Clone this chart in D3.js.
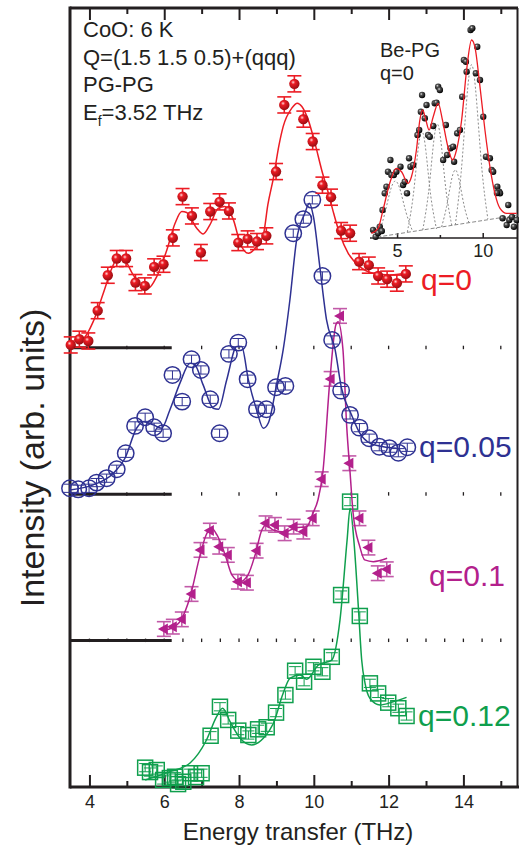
<!DOCTYPE html>
<html>
<head>
<meta charset="utf-8">
<script src="https://cdn.jsdelivr.net/npm/d3@7"></script>
<style>
  body { margin: 0; background: #fff; }
  svg { display: block; }
  text { font-family: "Liberation Sans", Arial, sans-serif; fill: #231f20; }
</style>
</head>
<body>
<div id="chart"></div>
<script>
// ---- data (energy in THz, intensity in arb. units above each curve's baseline) ----
const xMajorTicks = [4, 6, 8, 10, 12, 14]
const xMinorTicks = [5, 7, 9, 11, 13, 15]
const insetTicks = [5, 10]

const seriesLabels = ['q=0', 'q=0.05', 'q=0.1', 'q=0.12']
const seriesOffsets = [30, 20, 10, 0]
const seriesErrors = [0.55, 0.28, 0.5, 0.28]

const pointsQ0 = [
  [3.50, 0.19], [3.73, 0.58], [3.97, 0.46], [4.22, 2.53], [4.49, 4.95], [4.73, 6.09],
  [4.98, 6.09], [5.23, 4.45], [5.48, 4.22], [5.73, 5.52], [5.98, 5.70], [6.23, 7.50],
  [6.49, 10.32], [6.74, 9.00], [6.98, 6.50], [7.23, 9.30], [7.48, 9.96], [7.73, 9.34],
  [7.98, 7.18], [8.23, 7.43], [8.48, 7.25], [8.73, 7.64], [8.99, 12.03], [9.21, 16.58],
  [9.48, 18.02], [9.72, 15.61], [9.97, 14.08], [10.23, 11.10], [10.46, 10.28], [10.73, 8.00],
  [10.97, 7.82], [11.21, 5.88], [11.47, 5.64], [11.72, 4.90], [11.96, 4.68], [12.22, 4.41],
  [12.46, 5.04]
]
const fitQ0 = [
  [3.48, 0.42], [3.84, 0.65], [4.10, 1.78], [4.37, 3.72], [4.60, 5.43], [4.77, 6.18],
  [4.95, 5.95], [5.17, 4.97], [5.40, 4.17], [5.57, 4.06], [5.80, 4.86], [6.07, 6.68],
  [6.29, 8.50], [6.47, 9.30], [6.60, 9.23], [6.87, 8.16], [7.04, 7.77], [7.22, 8.39],
  [7.45, 9.53], [7.62, 9.64], [7.85, 8.73], [8.03, 7.14], [8.25, 6.45], [8.47, 6.91],
  [8.65, 7.70], [8.77, 9.75], [8.92, 11.60], [9.07, 13.85], [9.18, 15.10], [9.41, 16.36],
  [9.56, 16.70], [9.68, 16.47], [9.85, 15.56], [10.03, 13.97], [10.21, 12.14], [10.39, 10.55],
  [10.52, 9.28], [10.70, 7.71], [10.92, 6.45], [11.23, 5.54], [11.59, 5.09], [12.04, 4.97],
  [12.57, 5.13]
]

const pointsQ005 = [
  [3.48, 0.40], [3.70, 0.33], [3.99, 0.40], [4.19, 0.79], [4.46, 1.09], [4.73, 1.70],
  [4.97, 2.79], [5.22, 4.66], [5.49, 5.25], [5.73, 4.57], [5.97, 4.16], [6.22, 8.14],
  [6.48, 6.32], [6.73, 9.21], [6.98, 8.48], [7.23, 6.48], [7.48, 4.16], [7.73, 9.58],
  [7.98, 10.35], [8.23, 7.85], [8.48, 5.80], [8.73, 5.80], [8.99, 7.30], [9.24, 7.39],
  [9.45, 17.82], [9.72, 18.78], [9.96, 20.10], [10.23, 14.90], [10.49, 10.53], [10.73, 7.07],
  [10.97, 5.41], [11.22, 4.54], [11.48, 3.82], [11.75, 3.24], [12.02, 3.14], [12.26, 2.83],
  [12.50, 3.20]
]
const fitQ005 = [
  [3.48, 0.29], [4.10, 0.63], [4.64, 1.43], [4.95, 2.45], [5.26, 4.50], [5.44, 4.95],
  [5.71, 4.73], [5.93, 4.50], [6.15, 5.75], [6.42, 7.58], [6.69, 8.94], [6.82, 8.83],
  [7.04, 7.46], [7.31, 5.87], [7.45, 5.80], [7.67, 7.80], [7.94, 10.08], [8.07, 10.08],
  [8.25, 7.80], [8.47, 5.75], [8.65, 4.50], [8.78, 4.84], [9.01, 7.57], [9.18, 9.85],
  [9.36, 13.26], [9.54, 17.36], [9.76, 19.19], [9.88, 19.87], [9.99, 18.95], [10.16, 15.54],
  [10.34, 11.90], [10.57, 9.85], [10.74, 7.23], [11.01, 5.41], [11.23, 4.16], [11.50, 3.48],
  [11.86, 3.24], [12.22, 3.13]
]

const pointsQ01 = [
  [5.99, 0.79], [6.23, 0.95], [6.47, 1.45], [6.73, 3.18], [6.97, 6.19], [7.22, 7.51],
  [7.47, 6.41], [7.70, 5.85], [7.97, 4.02], [8.21, 3.95], [8.47, 6.14], [8.71, 8.01],
  [8.96, 7.90], [9.22, 7.33], [9.46, 7.78], [9.72, 7.44], [9.97, 8.35], [10.21, 11.02],
  [10.45, 17.87], [10.70, 22.17], [10.95, 12.11], [11.22, 8.35], [11.46, 6.35], [11.71, 4.60],
  [11.95, 4.87]
]
const fitQ01 = [
  [5.99, 0.72], [6.21, 0.86], [6.45, 1.41], [6.69, 2.98], [6.96, 5.85], [7.12, 7.21],
  [7.27, 7.67], [7.41, 7.21], [7.63, 5.85], [7.81, 4.48], [8.03, 4.02], [8.24, 4.48],
  [8.43, 5.85], [8.61, 7.55], [8.72, 7.90], [8.91, 7.55], [9.23, 7.41], [9.50, 7.69],
  [9.81, 7.78], [9.98, 8.72], [10.11, 9.60], [10.24, 11.45], [10.43, 17.80], [10.59, 21.56],
  [10.65, 21.78], [10.78, 19.84], [10.88, 14.61], [10.97, 11.45], [11.05, 8.72], [11.23, 6.41],
  [11.36, 5.51], [11.59, 5.39], [11.96, 5.62]
]

const pointsQ012 = [
  [5.49, 1.32], [5.62, 1.02], [5.80, 1.16], [5.97, 0.48], [6.15, 0.61], [6.29, 0.70],
  [6.37, 0.20], [6.51, 0.36], [6.69, 0.94], [6.85, 0.68], [7.00, 0.94], [7.24, 3.50],
  [7.49, 5.48], [7.71, 4.58], [7.98, 3.85], [8.25, 3.55], [8.51, 3.94], [8.74, 4.08],
  [8.99, 5.08], [9.24, 6.28], [9.50, 7.94], [9.74, 7.19], [9.99, 8.21], [10.23, 7.87],
  [10.48, 8.89], [10.73, 13.11], [10.97, 19.49], [11.23, 11.68], [11.50, 7.08], [11.72, 6.39],
  [11.99, 5.76], [12.26, 5.38], [12.48, 4.85]
]
const fitQ012 = [
  [5.49, 0.48], [6.15, 1.05], [6.69, 1.64], [7.13, 3.21], [7.40, 4.80], [7.56, 5.38],
  [7.76, 4.46], [8.03, 3.33], [8.34, 2.87], [8.65, 3.33], [8.92, 4.35], [9.18, 6.40],
  [9.36, 7.42], [9.63, 7.65], [9.81, 7.36], [10.12, 8.33], [10.48, 8.67], [10.70, 11.41],
  [10.89, 16.87], [10.97, 19.04], [11.07, 16.87], [11.19, 12.32], [11.28, 8.67], [11.37, 7.08],
  [11.50, 6.06], [11.77, 5.60], [12.12, 5.82], [12.48, 6.12]
]

// inset: Be-PG, q=0
const insetPoints = [
  [3.60, 0.80], [3.75, 0.13], [3.89, 0.50], [3.99, 1.13], [4.11, 0.70], [4.15, 2.80],
  [4.28, 4.47], [4.38, 5.13], [4.47, 6.63], [4.61, 7.80], [4.67, 6.30], [4.81, 6.30],
  [4.96, 6.63], [5.20, 7.13], [5.35, 5.30], [5.45, 5.63], [5.58, 4.47], [5.70, 7.97],
  [5.78, 7.13], [5.94, 7.30], [6.19, 10.30], [6.29, 10.80], [6.39, 12.63], [6.46, 14.30],
  [6.62, 11.97], [6.72, 13.30], [6.81, 10.30], [6.91, 10.13], [7.11, 11.20], [7.20, 13.47],
  [7.30, 13.53], [7.40, 15.13], [7.50, 14.80], [7.69, 7.80], [7.85, 11.30], [7.92, 8.30],
  [8.12, 8.97], [8.27, 9.13], [8.33, 7.63], [8.51, 10.47], [8.67, 10.80], [8.80, 14.13],
  [8.90, 17.80], [9.02, 17.63], [9.06, 16.63], [9.29, 20.80], [9.39, 20.97], [9.68, 19.13],
  [9.60, 16.47], [9.84, 15.80], [10.03, 12.13], [10.19, 8.13], [10.42, 7.97], [10.52, 6.80],
  [10.61, 6.63], [10.85, 5.13], [10.96, 4.63], [11.01, 4.47], [10.83, 4.50], [11.49, 3.30],
  [11.16, 1.97], [11.40, 1.30], [11.55, 1.80], [11.71, 2.10], [11.82, 1.13], [11.98, 1.80]
]
const insetFit = [
  [3.50, 0.47], [3.89, 0.97], [4.18, 2.80], [4.57, 5.47], [4.96, 6.97], [5.26, 6.63],
  [5.64, 5.47], [5.84, 6.13], [6.13, 8.80], [6.33, 11.80], [6.49, 12.80], [6.68, 11.80],
  [6.87, 10.80], [7.11, 12.13], [7.40, 13.47], [7.65, 11.80], [7.92, 9.47], [8.24, 7.80],
  [8.47, 8.80], [8.77, 11.80], [9.06, 16.80], [9.35, 19.80], [9.54, 19.13], [9.84, 15.13],
  [10.13, 10.80], [10.42, 7.13], [10.71, 4.47], [11.01, 2.97], [11.40, 2.47], [11.98, 2.47]
]
const insetBackground = [[3.50, 0.0], [12.06, 2.3]]
const insetComponents = [
  [[3.9, 0.2], [4.3, 2.4], [4.6, 4.9], [4.9, 6.1], [5.2, 4.9], [5.5, 2.5], [5.9, 0.7]],
  [[5.6, 0.6], [5.95, 3.8], [6.2, 8.8], [6.45, 11.6], [6.7, 8.8], [6.95, 3.9], [7.3, 0.9]],
  [[6.5, 0.8], [6.85, 4.2], [7.1, 9.4], [7.35, 12.4], [7.6, 9.4], [7.85, 4.3], [8.2, 1.2]],
  [[7.6, 1.1], [7.9, 3.0], [8.15, 5.8], [8.4, 7.3], [8.65, 5.8], [8.9, 3.1], [9.2, 1.5]],
  [[8.4, 1.3], [8.75, 6.0], [9.05, 14.0], [9.35, 19.0], [9.65, 14.0], [9.95, 6.2], [10.3, 1.9]]
]

// ---- layout ----
const W = 519, H = 850
const INK = '#231f20'
const colors = ['#ec1c24', '#2e3192', '#b3208c', '#0f9f4d']

const svg = d3.select('#chart').append('svg')
                               .attr('width', W)
                               .attr('height', H)

const x = d3.scaleLinear().domain([3.48, 15.46]).range([70, 518])
const y = d3.scaleLinear().domain([0, 53.2]).range([787, 8])

const defs = svg.append('defs')
const addBall = (id, hi, mid, dark) => {
  const g = defs.append('radialGradient')
                .attr('id', id)
                .attr('cx', '38%').attr('cy', '35%').attr('r', '65%')
  g.append('stop').attr('offset', '0%').attr('stop-color', hi)
  g.append('stop').attr('offset', '30%').attr('stop-color', mid)
  g.append('stop').attr('offset', '100%').attr('stop-color', dark)
}
addBall('ballRed', '#ffd6d6', '#ec1c24', '#9c0d12')
addBall('ballBlack', '#e8e8e8', '#555', '#000')

// ---- frame and axes ----
const axisBottom = svg.append('g').attr('transform', 'translate(0,787)')
axisBottom.call(d3.axisBottom(x).tickValues(xMajorTicks).tickSizeInner(-12).tickSizeOuter(0).tickPadding(8))
axisBottom.append('g').call(d3.axisBottom(x).tickValues(xMinorTicks).tickSizeInner(-6).tickSizeOuter(0).tickFormat(''))
const axisTop = svg.append('g').attr('transform', 'translate(0,8)')
axisTop.call(d3.axisTop(x).tickValues(xMajorTicks).tickSizeInner(-12).tickSizeOuter(0).tickFormat(''))
axisTop.append('g').call(d3.axisTop(x).tickValues(xMinorTicks).tickSizeInner(-6).tickSizeOuter(0).tickFormat(''))
svg.selectAll('.domain').remove()
svg.selectAll('.tick line').attr('stroke', INK).attr('stroke-width', 2)
axisBottom.selectAll('.tick text')
          .attr('font-size', 18)
          .attr('font-family', '"Liberation Sans", Arial, sans-serif')
          .attr('fill', INK)

svg.append('line').attr('x1', 70).attr('x2', 518).attr('y1', 8).attr('y2', 8)
   .attr('stroke', INK).attr('stroke-width', 3)
svg.append('line').attr('x1', 70).attr('x2', 519).attr('y1', 787).attr('y2', 787)
   .attr('stroke', INK).attr('stroke-width', 3)
svg.append('line').attr('x1', 70).attr('x2', 70).attr('y1', 6.5).attr('y2', 788.5)
   .attr('stroke', INK).attr('stroke-width', 3)
svg.append('line').attr('x1', 517.5).attr('x2', 517.5).attr('y1', 8).attr('y2', 787)
   .attr('stroke', INK).attr('stroke-width', 2)

// baselines of the shifted curves: short solid piece then dotted ticks
seriesOffsets.slice(0, 3).forEach((off, i) => {
  const yb = y(off)
  svg.append('line').attr('x1', 70).attr('x2', x(6.2)).attr('y1', yb).attr('y2', yb)
     .attr('stroke', INK).attr('stroke-width', 3)
  const step = off === 10 ? 0.5 : 1
  const ticks = d3.range(4, 15.01, step)
  svg.append('g').selectAll('line').data(ticks).enter().append('line')
     .attr('x1', d => x(d)).attr('x2', d => x(d))
     .attr('y1', yb - 2).attr('y2', yb + 1.5)
     .attr('stroke', INK).attr('stroke-width', 1.3)
})

svg.append('text').attr('x', 298).attr('y', 840).attr('text-anchor', 'middle')
   .attr('font-size', 24).text('Energy transfer (THz)')
svg.append('text').attr('transform', 'translate(44,458) rotate(-90)')
   .attr('text-anchor', 'middle').attr('font-size', 34).text('Intensity (arb. units)')

// top-left annotation
const note = svg.append('g').attr('font-size', 22)
note.append('text').attr('x', 83).attr('y', 37).attr('font-size', 22).text('CoO: 6 K')
note.append('text').attr('x', 83).attr('y', 65).attr('font-size', 22).text('Q=(1.5 1.5 0.5)+(qqq)')
note.append('text').attr('x', 83).attr('y', 92).attr('font-size', 22).text('PG-PG')
const ef = note.append('text').attr('x', 83).attr('y', 120).attr('font-size', 22)
ef.append('tspan').text('E')
ef.append('tspan').attr('font-size', 14).attr('dy', 6).text('f')
ef.append('tspan').attr('dy', -6).text('=3.52 THz')

// ---- series ----
const line = off => d3.line()
                      .x(d => x(d[0]))
                      .y(d => y(d[1] + off))
                      .curve(d3.curveMonotoneX)

const drawErrors = (g, pts, off, err, color, capHalf, width) => {
  const eb = g.append('g').attr('stroke', color).attr('stroke-width', width)
  const each = eb.selectAll('g').data(pts).enter().append('g')
  each.append('line')
      .attr('x1', d => x(d[0])).attr('x2', d => x(d[0]))
      .attr('y1', d => y(d[1] + off - err)).attr('y2', d => y(d[1] + off + err))
  each.append('line')
      .attr('x1', d => x(d[0]) - capHalf).attr('x2', d => x(d[0]) + capHalf)
      .attr('y1', d => y(d[1] + off - err)).attr('y2', d => y(d[1] + off - err))
  each.append('line')
      .attr('x1', d => x(d[0]) - capHalf).attr('x2', d => x(d[0]) + capHalf)
      .attr('y1', d => y(d[1] + off + err)).attr('y2', d => y(d[1] + off + err))
}

const seriesPoints = [pointsQ0, pointsQ005, pointsQ01, pointsQ012]
const seriesFits = [fitQ0, fitQ005, fitQ01, fitQ012]
const labelPos = [[421, 290], [419, 457], [429, 586], [418, 726]]

// draw bottom series first
;[3, 2, 1, 0].forEach(i => {
  const off = seriesOffsets[i]
  const color = colors[i]
  const pts = seriesPoints[i]
  const g = svg.append('g').attr('class', 'series-' + i)

  if (i === 0) drawErrors(g, pts, off, seriesErrors[i], color, 7, 1.6)
  if (i === 2) drawErrors(g, pts, off, seriesErrors[i], '#c25aa8', 7, 1.6)

  g.append('path')
   .attr('d', line(off)(seriesFits[i]))
   .attr('fill', 'none')
   .attr('stroke', color)
   .attr('stroke-width', 1.5)

  const m = g.append('g')
  if (i === 0) {
    m.selectAll('circle').data(pts).enter().append('circle')
     .attr('cx', d => x(d[0])).attr('cy', d => y(d[1] + off))
     .attr('r', 5.2).attr('fill', 'url(#ballRed)')
  } else if (i === 1) {
    drawErrors(g, pts, off, seriesErrors[i], color, 6, 1)
    m.selectAll('circle').data(pts).enter().append('circle')
     .attr('cx', d => x(d[0])).attr('cy', d => y(d[1] + off))
     .attr('r', 8.2).attr('fill', 'none')
     .attr('stroke', color).attr('stroke-width', 1.5)
  } else if (i === 2) {
    m.selectAll('path').data(pts).enter().append('path')
     .attr('transform', d => `translate(${x(d[0])},${y(d[1] + off)})`)
     .attr('d', 'M-6,0 L4,-5.5 L4,5.5 Z')
     .attr('fill', color)
  } else {
    drawErrors(g, pts, off, seriesErrors[i], color, 6, 1)
    m.selectAll('rect').data(pts).enter().append('rect')
     .attr('x', d => x(d[0]) - 7.5).attr('y', d => y(d[1] + off) - 7.5)
     .attr('width', 15).attr('height', 15)
     .attr('fill', 'none').attr('stroke', color).attr('stroke-width', 1.5)
  }

  svg.append('text')
     .attr('x', labelPos[i][0]).attr('y', labelPos[i][1])
     .attr('font-size', 30)
     .style('fill', color)
     .text(seriesLabels[i])
})

// ---- inset ----
const xi = d3.scaleLinear().domain([3.42, 12.06]).range([370, 518])
const yi = d3.scaleLinear().domain([0, 21.5]).range([238, 23])
const inset = svg.append('g').attr('class', 'inset')

const insetAxis = inset.append('g').attr('transform', 'translate(0,238)')
insetAxis.call(d3.axisBottom(xi).tickValues(insetTicks).tickSizeInner(-5).tickSizeOuter(0).tickPadding(6))
insetAxis.append('g').call(d3.axisBottom(xi).tickValues([7.5]).tickSizeInner(-3).tickSizeOuter(0).tickFormat(''))
insetAxis.selectAll('.domain').remove()
insetAxis.selectAll('.tick line').attr('stroke', INK).attr('stroke-width', 1.5)
insetAxis.selectAll('.tick text')
         .attr('font-size', 18)
         .attr('font-family', '"Liberation Sans", Arial, sans-serif')
         .attr('fill', INK)
inset.append('line').attr('x1', 370).attr('x2', 518).attr('y1', 238).attr('y2', 238)
     .attr('stroke', INK).attr('stroke-width', 1.5)

const insetLine = d3.line().x(d => xi(d[0])).y(d => yi(d[1]))
inset.append('path').attr('d', insetLine(insetBackground))
     .attr('fill', 'none').attr('stroke', '#8a8a8a').attr('stroke-width', 1)
     .attr('stroke-dasharray', '4,2')
inset.selectAll('path.comp').data(insetComponents).enter().append('path')
     .attr('class', 'comp')
     .attr('d', d => insetLine.curve(d3.curveBasis)(d))
     .attr('fill', 'none').attr('stroke', '#8a8a8a').attr('stroke-width', 1)
     .attr('stroke-dasharray', '2,2')
inset.selectAll('circle').data(insetPoints).enter().append('circle')
     .attr('cx', d => xi(d[0])).attr('cy', d => yi(d[1]))
     .attr('r', 3.2).attr('fill', 'url(#ballBlack)')
inset.append('path').attr('d', insetLine.curve(d3.curveMonotoneX)(insetFit))
     .attr('fill', 'none').attr('stroke', colors[0]).attr('stroke-width', 1.3)

inset.append('text').attr('x', 380).attr('y', 57).attr('font-size', 20).text('Be-PG')
inset.append('text').attr('x', 380).attr('y', 80).attr('font-size', 20).text('q=0')
</script>
</body>
</html>
